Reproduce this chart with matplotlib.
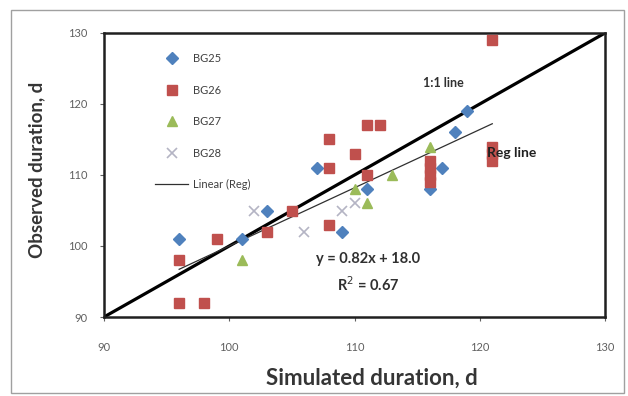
import matplotlib
matplotlib.use("Agg")
import matplotlib.pyplot as plt
from matplotlib.patches import Rectangle
import numpy as np

plt.rcParams['font.family'] = ['Lato', 'DejaVu Sans']

# BG25
bg25_x = [96, 101, 103, 107, 109, 111, 116, 117, 118, 119]
bg25_y = [101, 101, 105, 111, 102, 108, 108, 111, 116, 119]
# BG26
bg26_x = [96, 98, 96, 99, 103, 105, 108, 108, 108, 110, 111, 112, 111, 116, 116, 116, 116, 121, 121, 121, 121]
bg26_y = [92, 92, 98, 101, 102, 105, 103, 111, 115, 113, 117, 117, 110, 112, 111, 110, 109, 129, 114, 113, 112]
# BG27
bg27_x = [101, 110, 111, 113, 116]
bg27_y = [98, 108, 106, 110, 114]
# BG28
bg28_x = [102, 106, 109, 110]
bg28_y = [105, 102, 105, 106]

reg_slope = 0.82
reg_icpt = 18.0
reg_r2 = 0.67
reg_range = [96, 121]

ticks = [90, 100, 110, 120, 130]

fig = plt.figure(figsize=(6.28, 3.96), dpi=100)
ax = fig.add_axes([104/628, 1-317/396, 501/628, 284/396])

# chart area border
fig.patches.append(Rectangle((11/628, 3/396), 613/628, 383/396, transform=fig.transFigure,
                             fill=False, edgecolor='#a0a0a0', lw=1.0))

ax.plot([90, 130], [90, 130], color='black', lw=2.3, zorder=2)
rx = np.array(reg_range)
ax.plot(rx, reg_slope*rx + reg_icpt, color='#303030', lw=0.9, zorder=2, label='Linear (Reg)')

ax.plot(bg25_x, bg25_y, 'D', color='#4F81BD', ms=6, ls='none', zorder=3, label='BG25')
ax.plot(bg26_x, bg26_y, 's', color='#C0504D', ms=7.5, ls='none', zorder=3, label='BG26')
ax.plot(bg27_x, bg27_y, '^', color='#9BBB59', ms=7.5, ls='none', zorder=3, label='BG27')
ax.plot(bg28_x, bg28_y, 'x', color='#B4B4C4', ms=7, mew=1.2, ls='none', zorder=3, label='BG28')

h, l = ax.get_legend_handles_labels()
order = [1, 2, 3, 4, 0]
ax.legend([h[i] for i in order], [l[i] for i in order], loc='upper left',
          bbox_to_anchor=(155/628, 1-53/396), bbox_transform=fig.transFigure,
          frameon=False, fontsize=8, labelspacing=1.85, handlelength=3.0,
          handletextpad=0.4, borderpad=0, borderaxespad=0, labelcolor='#404040')

ax.set_xlim(90, 130)
ax.set_ylim(90, 130)
ax.set_xticks(ticks)
ax.set_yticks(ticks)
ax.tick_params(labelsize=8, colors='#606060', length=3, width=0.8, pad=15)
ax.tick_params(axis='y', pad=9)
for s in ax.spines.values():
    s.set_linewidth(1.8)
    s.set_color('#202020')

ax.set_xlabel('Simulated duration, d', fontsize=16, color='#353535', fontweight='bold')
ax.set_ylabel('Observed duration, d', fontsize=13.5, color='#353535', fontweight='bold')
ax.xaxis.set_label_coords(0.535, -0.215)
ax.yaxis.set_label_coords(-0.134, 0.518)
ax.xaxis.label.set_va('center')
ax.yaxis.label.set_va('center')

ax.text(117.1, 123.0, '1:1 line', fontsize=9, color='#303030', ha='center', va='center', fontweight='bold')
ax.text(120.6, 113.1, 'Reg line', fontsize=10, color='#202020', ha='left', va='center', fontweight='bold')
ax.text(111.1, 98.2, 'y = %.2fx + %.1f' % (reg_slope, reg_icpt), fontsize=10.5,
        color='#303030', ha='center', va='center', fontweight='bold')
ax.text(111.1, 94.5, 'R$^2$ = %.2f' % reg_r2, fontsize=10.5, color='#303030',
        ha='center', va='center', fontweight='bold')

fig.savefig('out.png', dpi=100)
